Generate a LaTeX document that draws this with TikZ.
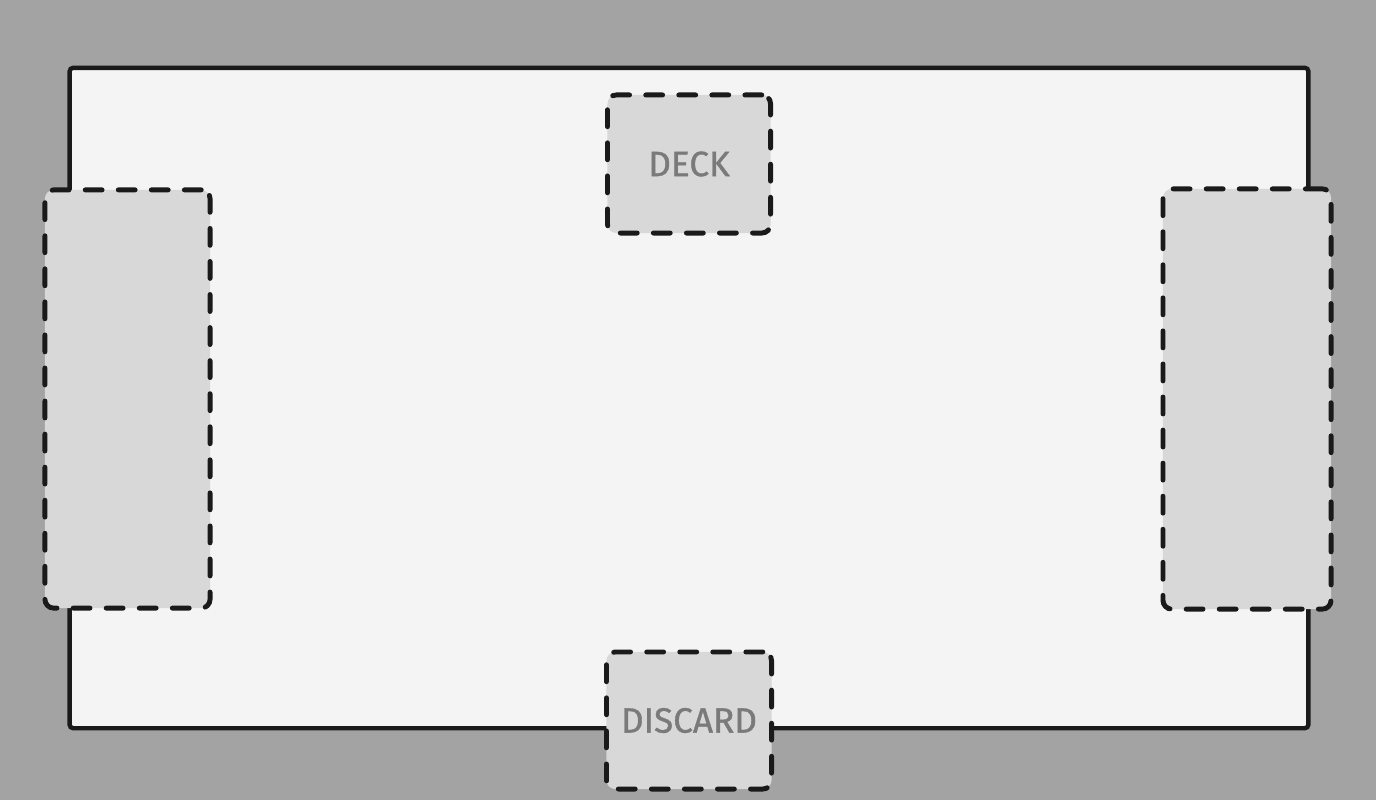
\documentclass[tikz,border=0pt]{standalone}
\usepackage{fontspec}
\setsansfont{Fira Sans}
\newfontfamily\pilefont[FakeBold=1]{Fira Sans}
\definecolor{tablebg}{HTML}{A3A3A3}
\definecolor{feltgrey}{HTML}{F4F4F4}
\definecolor{pilegrey}{HTML}{D8D8D8}
\definecolor{inkdark}{HTML}{1A1A1A}
\definecolor{labelgrey}{HTML}{7A7A7A}

\begin{document}
\begin{tikzpicture}[
        x=0.01cm, y=-0.01cm,
        tablebox/.style={draw=inkdark, line width=1.25pt, fill=feltgrey, rectangle,
          rounded corners=1pt, minimum width=12.38cm, minimum height=6.6cm, inner sep=0pt},
        pilebox/.style={draw=inkdark, line width=1.4pt, line cap=round, fill=pilegrey, rectangle,
          rounded corners=2.5pt, dash pattern=on 4.8pt off 4.6pt, inner sep=0pt,
          font=\pilefont\fontsize{10}{12}\selectfont, text=labelgrey}
      ]
      % background
      \fill[tablebg] (0,0) rectangle (1376,800);
      \useasboundingbox (0,0) rectangle (1376,800);

      \node[tablebox] (table) at (689,398) {};

      % side piles
      \node[pilebox, minimum width=1.65cm, minimum height=4.18cm] (leftpile) at (127.5,399) {};
      \node[pilebox, minimum width=1.68cm, minimum height=4.2cm] (rightpile) at (1247,399) {};

      % deck and discard
      \node[pilebox, minimum width=1.63cm, minimum height=1.38cm] (deck) at (689,164) {DECK};
      \node[pilebox, minimum width=1.65cm, minimum height=1.37cm] (discard) at (689,720.5) {DISCARD};
    \end{tikzpicture}
\end{document}
